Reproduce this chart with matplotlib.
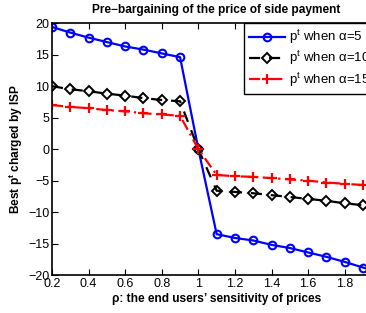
import numpy as np
import matplotlib
matplotlib.use('Agg')
from matplotlib import pyplot as plt

plt.rcParams['font.family'] = ['Liberation Sans', 'DejaVu Sans']
plt.rcParams['mathtext.fontset'] = 'custom'
plt.rcParams['mathtext.rm'] = 'Liberation Sans'
plt.rcParams['mathtext.bf'] = 'Liberation Sans:bold'

# sensitivity of prices
rho = [0.2, 0.3, 0.4, 0.5, 0.6, 0.7, 0.8, 0.9, 1.0, 1.1,
       1.2, 1.3, 1.4, 1.5, 1.6, 1.7, 1.8, 1.9, 2.0]
# best p^t for each alpha
p_alpha5 = [19.4, 18.5, 17.7, 17.0, 16.3, 15.8, 15.2, 14.6, 0.0, -13.5,
            -14.1, -14.5, -15.2, -15.7, -16.4, -17.1, -17.9, -18.8, -19.6]
p_alpha10 = [10.0, 9.5, 9.2, 8.8, 8.5, 8.1, 7.8, 7.6, 0.0, -6.6,
             -6.8, -7.0, -7.3, -7.6, -7.9, -8.2, -8.6, -8.9, -9.4]
p_alpha15 = [7.0, 6.7, 6.5, 6.2, 6.0, 5.7, 5.5, 5.3, 0.0, -4.1,
             -4.3, -4.4, -4.6, -4.8, -5.0, -5.3, -5.5, -5.7, -6.0]
labels = [r'p$^{\mathrm{t}}$ when α=5', r'p$^{\mathrm{t}}$ when α=10', r'p$^{\mathrm{t}}$ when α=15']
xticks = [0.2, 0.4, 0.6, 0.8, 1.0, 1.2, 1.4, 1.6, 1.8, 2.0]
# the label of 2 lies outside the picture in the original
xticklabels = ['0.2', '0.4', '0.6', '0.8', '1', '1.2', '1.4', '1.6', '1.8', '']
yticks = [-20, -15, -10, -5, 0, 5, 10, 15, 20]

fig = plt.figure(figsize=(3.66, 3.13), dpi=100)
# the right part of the axes falls outside the picture, as in the original
ax = fig.add_axes([0.142, 0.121, 0.90, 0.805])

ax.plot(rho, p_alpha5, '-o', color='#0000ff', lw=1.6, ms=5.5, mfc='none', mew=1.5, label=labels[0])
ax.plot(rho, p_alpha10, '--D', color='black', lw=1.6, ms=5, mfc='none', mew=1.4,
        dashes=(5, 4), label=labels[1])
ax.plot(rho, p_alpha15, '-.+', color='#ff0000', lw=1.6, ms=7, mew=1.6,
        dashes=(5, 2, 1, 2), label=labels[2])

ax.set_xlim(0.2, 2.0)
ax.set_ylim(-20, 20)
ax.set_xticks(xticks)
ax.set_xticklabels(xticklabels)
ax.set_yticks(yticks)
ax.tick_params(direction='in', top=True, right=True, labelsize=9, length=4, pad=2)
for s in ax.spines.values():
    s.set_linewidth(1.2)

ax.set_title('Pre\u2212bargaining of the price of side payment', fontsize=8.6, fontweight='bold', pad=7)
ax.set_xlabel('ρ: the end users\u2019 sensitivity of prices', fontsize=8.6, fontweight='bold', labelpad=2)
ax.set_ylabel(r'Best p$^{\mathbf{t}}$ charged by ISP', fontsize=8.6, fontweight='bold', labelpad=2)

# legend box starts at about x = 0.58 of the axes and runs past the picture
leg = ax.legend(loc='upper left', bbox_to_anchor=(0.583, 1.0), borderaxespad=0, fontsize=9.5,
                fancybox=False, framealpha=1, edgecolor='black', handlelength=2.75,
                handletextpad=0.3, labelspacing=0.22, borderpad=0.38)
leg.get_frame().set_linewidth(1.0)

fig.savefig('out.png', dpi=100)
